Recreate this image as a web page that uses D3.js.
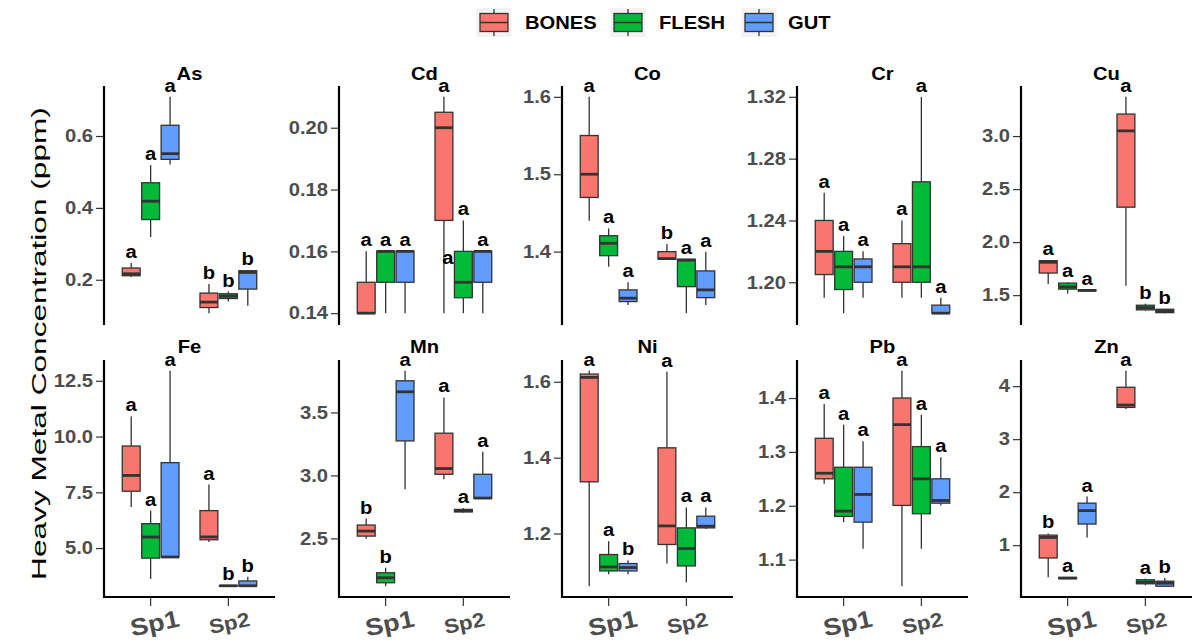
<!DOCTYPE html>
<html><head><meta charset="utf-8">
<script src="https://cdn.jsdelivr.net/npm/d3@7/dist/d3.min.js"></script>
<style>
body{margin:0;background:#fff;}
text{font-family:"Liberation Sans",Arial,sans-serif;}
</style></head>
<body>
<script>
// ---------- DATA ----------
const metals = ["As","Cd","Co","Cr","Cu","Fe","Mn","Ni","Pb","Zn"];
const species = ["Sp1","Sp2"];
const tissues = ["BONES","FLESH","GUT"];
const colors = ["#F8766D","#00BA38","#619CFF"];
// each row: [whiskerLow, Q1, median, Q3, whiskerHigh]; order Sp1 BONES,FLESH,GUT, Sp2 BONES,FLESH,GUT
const boxAs = [[0.2075,0.2112,0.2167,0.2327,0.2466],[0.319,0.3675,0.4185,0.4699,0.519],[0.521,0.535,0.5508,0.6298,0.709],
               [0.107,0.1227,0.1378,0.1629,0.188],[0.1394,0.1478,0.1545,0.161,0.1673],[0.128,0.174,0.2204,0.2251,0.227]];
const boxCd = [[0.14,0.14,0.14,0.15,0.16],[0.14,0.15,0.16,0.16,0.16],[0.14,0.15,0.16,0.16,0.16],
               [0.14,0.17,0.20,0.205,0.21],[0.14,0.145,0.15,0.16,0.17],[0.14,0.15,0.16,0.16,0.16]];
const boxCo = [[1.44,1.47,1.50,1.55,1.60],[1.3806,1.3948,1.4108,1.4206,1.430],[1.3312,1.3355,1.3399,1.3506,1.3605],
               [1.3902,1.3902,1.391,1.40,1.41],[1.3205,1.3548,1.389,1.3902,1.3902],[1.3312,1.3406,1.3506,1.3751,1.40]];
const boxCr = [[1.19,1.205,1.22,1.24,1.258],[1.18,1.1953,1.21,1.22,1.23],[1.19,1.20,1.21,1.2151,1.22],
               [1.19,1.20,1.21,1.225,1.24],[1.19,1.20,1.21,1.265,1.32],[1.18,1.18,1.18,1.1852,1.19]];
const boxCu = [[1.604,1.7083,1.81,1.8248,1.83],[1.515,1.5568,1.5786,1.6136,1.62],[1.538,1.540,1.545,1.550,1.552],
               [1.588,2.3295,3.049,3.2074,3.37],[1.355,1.361,1.3826,1.405,1.42],[1.33,1.335,1.35,1.367,1.37]];
const boxFe = [[6.847,7.55,8.257,9.577,10.9],[3.617,4.55,5.495,6.095,6.68],[4.595,4.595,4.6,8.829,12.95],
               [5.27,5.374,5.5,6.68,7.85],[3.29,3.30,3.31,3.32,3.33],[3.30,3.30,3.31,3.527,3.72]];
const boxMn = [[2.497,2.518,2.558,2.606,2.657],[2.12,2.1476,2.1874,2.227,2.267],[2.89,3.274,3.664,3.7514,3.831],
               [2.969,3.009,3.0545,3.3353,3.619],[2.705,2.71,2.72,2.73,2.74],[2.818,2.818,2.82,3.009,3.187]];
const boxNi = [[1.061,1.3362,1.6116,1.6203,1.629],[1.0926,1.1013,1.1119,1.1446,1.1797],[1.0926,1.1013,1.1103,1.1208,1.1296],
               [1.1208,1.171,1.22,1.4259,1.6264],[1.0707,1.1145,1.1604,1.2148,1.2686],[1.212,1.2148,1.2193,1.2456,1.2686]];
const boxPb = [[1.2407,1.25,1.2604,1.3252,1.3889],[1.1696,1.1802,1.19,1.2715,1.3506],[1.1204,1.1696,1.221,1.2715,1.3196],
               [1.0506,1.2006,1.3506,1.40,1.4506],[1.1204,1.1852,1.25,1.3098,1.369],[1.2006,1.2048,1.2098,1.25,1.29]];
const boxZn = [[0.397,0.7586,1.146,1.19,1.222],[0.36,0.37,0.38,0.39,0.40],[1.146,1.399,1.652,1.793,1.918],
               [3.567,3.599,3.643,3.979,4.29],[0.245,0.272,0.302,0.348,0.37],[0.226,0.226,0.283,0.321,0.38]];

const lettersAs = ["a","a","a","b","b","b"];
const lettersCd = ["a","a","a","a","a","a"];
const lettersCo = ["a","a","a","b","a","a"];
const lettersCr = ["a","a","a","a","a","a"];
const lettersCu = ["a","a","a","a","b","b"];
const lettersFe = ["a","a","a","a","b","b"];
const lettersMn = ["b","b","a","a","a","a"];
const lettersNi = ["a","a","b","a","a","a"];
const lettersPb = ["a","a","a","a","a","a"];
const lettersZn = ["b","a","a","a","a","b"];
// extra letter drawn in the Cd panel: [species index, tissue index, value, letter]
const extraCd = [[1,0,0.1558,"a"]];

const ticksAs = ["0.2","0.4","0.6"];
const ticksCd = ["0.14","0.16","0.18","0.20"];
const ticksCo = ["1.4","1.5","1.6"];
const ticksCr = ["1.20","1.24","1.28","1.32"];
const ticksCu = ["1.5","2.0","2.5","3.0"];
const ticksFe = ["5.0","7.5","10.0","12.5"];
const ticksMn = ["2.5","3.0","3.5"];
const ticksNi = ["1.2","1.4","1.6"];
const ticksPb = ["1.1","1.2","1.3","1.4"];
const ticksZn = ["1","2","3","4"];

const boxes = {As:boxAs,Cd:boxCd,Co:boxCo,Cr:boxCr,Cu:boxCu,Fe:boxFe,Mn:boxMn,Ni:boxNi,Pb:boxPb,Zn:boxZn};
const letters = {As:lettersAs,Cd:lettersCd,Co:lettersCo,Cr:lettersCr,Cu:lettersCu,Fe:lettersFe,Mn:lettersMn,Ni:lettersNi,Pb:lettersPb,Zn:lettersZn};
const ticks = {As:ticksAs,Cd:ticksCd,Co:ticksCo,Cr:ticksCr,Cu:ticksCu,Fe:ticksFe,Mn:ticksMn,Ni:ticksNi,Pb:ticksPb,Zn:ticksZn};
const extras = {Cd:extraCd};

// ---------- LAYOUT ----------
const W=1192, H=642;
const svg = d3.select("body").append("svg").attr("width",W).attr("height",H);
const STR = 1.12;
function stretch(sel){
  sel.each(function(){
    const l=this.getComputedTextLength();
    d3.select(this).attr("textLength",l*STR).attr("lengthAdjust","spacingAndGlyphs");
  });
}
const lefts = [104,339,562,797,1021];
const pw = 171;
const rows = [[86,324],[360,597]];
const dodge = [-0.25,0,0.25];
const bw = 0.23;

metals.forEach((m,i)=>{
  const r = Math.floor(i/5), c = i%5;
  const x0 = lefts[c], [top,bot] = rows[r];
  const g = svg.append("g");
  const x = d3.scaleLinear().domain([0.4,2.6]).range([x0,x0+pw]);
  const data = boxes[m];
  const lo = d3.min(data,d=>d[0]), hi = d3.max(data,d=>d[4]);
  const ex = (hi-lo)*0.05;
  const y = d3.scaleLinear().domain([lo-ex,hi+ex]).range([bot,top]);

  // y axis
  const tv = ticks[m].map(Number);
  const ax = g.append("g").attr("transform",`translate(${x0},0)`)
    .call(d3.axisLeft(y).tickValues(tv).tickFormat((d,k)=>ticks[m][k]).tickSize(8).tickPadding(3));
  ax.select(".domain").remove();
  ax.selectAll(".tick line").attr("stroke","#333").attr("stroke-width",1.2);
  ax.selectAll(".tick text").attr("fill","#4d4d4d").attr("font-weight","bold").attr("font-size",18)
    .attr("font-family","Liberation Sans, Arial, sans-serif").call(stretch);
  g.append("line").attr("x1",x0).attr("x2",x0).attr("y1",top).attr("y2",bot+1)
    .attr("stroke","#000").attr("stroke-width",2.2);

  // x axis (bottom row only)
  if(r===1){
    g.append("line").attr("x1",x0-1).attr("x2",x0+pw).attr("y1",bot).attr("y2",bot)
      .attr("stroke","#000").attr("stroke-width",2.2);
    species.forEach((s,k)=>{
      const tx = x(k+1);
      g.append("line").attr("x1",tx).attr("x2",tx).attr("y1",bot).attr("y2",bot+9)
        .attr("stroke","#333").attr("stroke-width",1.2);
      const lx = tx + (k===0?4:1), ly = 623;
      g.append("text").attr("x",lx).attr("y",ly).attr("text-anchor","middle")
        .attr("dominant-baseline","central")
        .attr("transform",`rotate(-12,${lx},${ly})`)
        .attr("font-size",k===0?24:20).attr("font-weight","bold").attr("fill","#4d4d4d")
        .text(s).call(stretch);
    });
  }

  // title
  g.append("text").attr("x",x0+pw/2).attr("y",r===0?79.5:353).attr("text-anchor","middle")
    .attr("font-size",18).attr("font-weight","bold").attr("fill","#000").text(m).call(stretch);

  // boxes
  data.forEach((d,j)=>{
    const s = Math.floor(j/3), t = j%3;
    const cx = x(s+1+dodge[t]);
    const hw = (x(bw)-x(0))/2;
    const bg = g.append("g");
    bg.append("line").attr("x1",cx).attr("x2",cx).attr("y1",y(d[0])).attr("y2",y(d[1]))
      .attr("stroke","#333").attr("stroke-width",1.3);
    bg.append("line").attr("x1",cx).attr("x2",cx).attr("y1",y(d[3])).attr("y2",y(d[4]))
      .attr("stroke","#333").attr("stroke-width",1.3);
    bg.append("rect").attr("x",cx-hw).attr("width",2*hw)
      .attr("y",y(d[3])).attr("height",Math.max(0.5,y(d[1])-y(d[3])))
      .attr("fill",colors[t]).attr("stroke","#333").attr("stroke-width",1.3);
    bg.append("line").attr("x1",cx-hw).attr("x2",cx+hw).attr("y1",y(d[2])).attr("y2",y(d[2]))
      .attr("stroke","#333").attr("stroke-width",2.8);
    g.append("text").attr("x",cx).attr("y",y(d[4])-5).attr("text-anchor","middle")
      .attr("font-size",18).attr("font-weight","bold").attr("fill","#000")
      .text(letters[m][j]).call(stretch);
  });
  (extras[m]||[]).forEach(e=>{
    const cx = x(e[0]+1+dodge[e[1]]) + 4;
    g.append("text").attr("x",cx).attr("y",y(e[2])).attr("text-anchor","middle")
      .attr("font-size",18).attr("font-weight","bold").attr("fill","#000").text(e[3]).call(stretch);
  });
});

// y title: elongated along its reading direction
const yt = svg.append("text").attr("x",0).attr("y",0)
  .attr("text-anchor","middle").attr("font-size",20).attr("fill","#000")
  .text("Heavy Metal Concentration (ppm)");
const natural = yt.node().getComputedTextLength();
yt.attr("transform",`translate(45.5,343.5) rotate(-90) scale(${473/natural},1)`);

// legend
const keyX = [494,628,759];
const txtX = [525,659,788];
tissues.forEach((t,k)=>{
  const lg = svg.append("g");
  const cx = keyX[k];
  lg.append("rect").attr("x",cx-17.5).attr("y",8).attr("width",35).attr("height",29).attr("fill","#f2f2f2");
  lg.append("line").attr("x1",cx).attr("x2",cx).attr("y1",9).attr("y2",36).attr("stroke","#333").attr("stroke-width",1.3);
  lg.append("rect").attr("x",cx-14).attr("y",13.5).attr("width",28).attr("height",18)
    .attr("fill",colors[k]).attr("stroke","#333").attr("stroke-width",1.3);
  lg.append("line").attr("x1",cx-14).attr("x2",cx+14).attr("y1",22.5).attr("y2",22.5).attr("stroke","#333").attr("stroke-width",1.5);
  lg.append("text").attr("x",txtX[k]).attr("y",29).attr("font-size",18).attr("font-weight","bold")
    .attr("fill","#000").text(t).call(stretch);
});
</script>
</body></html>
